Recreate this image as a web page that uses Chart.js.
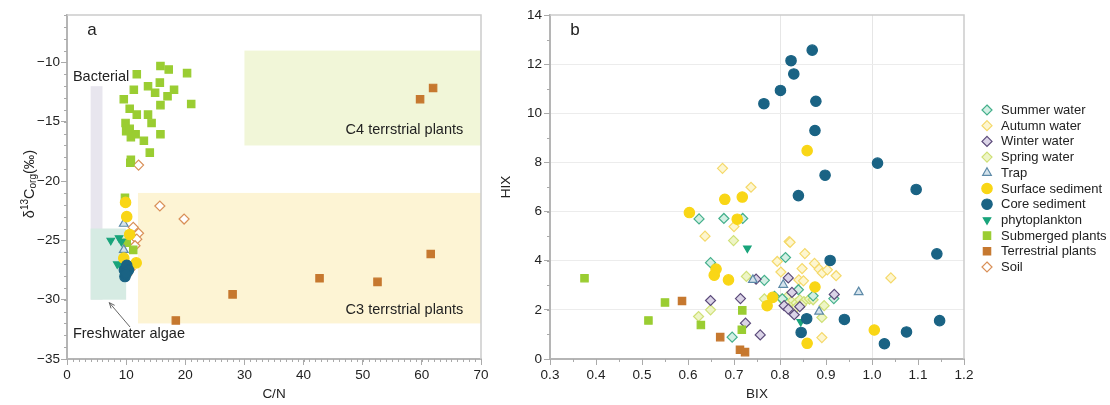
<!DOCTYPE html>
<html>
<head>
<meta charset="utf-8">
<script src="https://cdn.jsdelivr.net/npm/chart.js@4.4.1/dist/chart.umd.min.js"></script>
<style>
  body { margin: 0; background: #fff; }
  #painelA { position: absolute; left: 0; top: 0; }
  #painelB { position: absolute; left: 500px; top: 0; }
</style>
</head>
<body>
<canvas id="painelA" width="500" height="405"></canvas>
<canvas id="painelB" width="610" height="405"></canvas>
<script>
// ---------- dados ----------
// painel a: [C/N, d13C]
const submersasA = [[11.8,-11.0],[15.8,-10.3],[17.2,-10.6],[20.3,-10.9],[11.3,-12.3],[13.7,-12.0],[15.7,-11.7],[14.9,-12.55],[18.1,-12.3],[17.0,-12.85],[9.6,-13.1],[15.8,-13.6],[21.0,-13.5],[10.6,-13.9],[11.8,-14.4],[13.7,-14.4],[14.3,-15.1],[9.9,-15.1],[10.0,-15.8],[10.6,-15.6],[11.6,-16.05],[10.8,-16.3],[15.8,-16.05],[13.0,-16.6],[14.0,-17.6],[10.8,-18.2],[10.7,-18.45],[9.8,-21.4],[10.1,-25.2],[11.2,-25.8]];
const terrestresA = [[59.7,-13.1],[61.9,-12.15],[61.5,-26.15],[42.7,-28.2],[52.5,-28.5],[28.0,-29.55],[18.4,-31.75]];
const soloA = [[12.1,-18.65],[15.7,-22.1],[19.8,-23.2],[11.2,-23.9],[12.1,-24.4],[11.8,-24.9],[11.5,-25.45],[10.4,-27.1],[10.65,-27.45],[10.1,-27.9]];
const superficieA = [[9.9,-21.8],[10.1,-23.0],[10.6,-24.5],[9.6,-26.5],[11.7,-26.9]];
const armadilhaA = [[9.6,-23.6],[9.6,-25.8]];
const fitoA = [[7.4,-25.0],[8.8,-24.8],[9.2,-25.1],[8.5,-27.0],[9.0,-27.1]];
const testemunhoA = [[9.8,-28.05],[9.7,-27.5],[10.1,-27.1],[10.4,-27.5],[10.0,-27.8]];

// painel b: [BIX, HIX]
const veraoB = [[0.624,5.70],[0.678,5.72],[0.719,5.72],[0.649,3.92],[0.812,4.13],[0.766,3.20],[0.696,0.89],[0.788,2.55],[0.840,2.82],[0.872,2.57],[0.917,2.46],[0.805,2.45]];
const outonoB = [[0.675,7.76],[0.737,6.99],[0.700,5.39],[0.637,5.0],[0.820,4.78],[0.822,4.75],[0.854,4.29],[0.794,3.97],[0.802,3.54],[0.848,3.68],[0.875,3.89],[0.885,3.66],[0.892,3.50],[0.903,3.63],[0.922,3.39],[1.041,3.30],[0.841,3.22],[0.851,3.18],[0.891,0.87]];
const invernoB = [[0.649,2.38],[0.714,2.46],[0.725,1.46],[0.757,0.98],[0.748,3.25],[0.818,3.30],[0.918,2.63],[0.826,2.71],[0.809,2.17],[0.818,2.03],[0.831,1.80],[0.843,2.13]];
const primaveraB = [[0.699,4.82],[0.727,3.36],[0.649,2.0],[0.623,1.73],[0.766,2.45],[0.896,2.17],[0.891,1.69],[0.804,2.44],[0.815,2.52],[0.825,2.34],[0.835,2.28],[0.843,2.41],[0.852,2.34],[0.864,2.44],[0.836,2.11],[0.847,2.21],[0.872,2.41],[0.811,2.30]];
const armadilhaB = [[0.741,3.22],[0.807,3.02],[0.971,2.72],[0.885,1.93]];
const superficieB = [[0.859,8.48],[0.680,6.50],[0.718,6.59],[0.603,5.96],[0.707,5.69],[0.661,3.66],[0.657,3.41],[0.688,3.22],[0.876,2.93],[0.784,2.51],[0.772,2.17],[1.005,1.18],[0.859,0.64]];
const testemunhoB = [[0.870,12.57],[0.824,12.14],[0.830,11.6],[0.801,10.93],[0.765,10.39],[0.878,10.49],[0.876,9.30],[0.898,7.48],[1.012,7.97],[1.096,6.90],[0.840,6.65],[0.909,4.01],[1.141,4.28],[1.147,1.56],[0.940,1.61],[0.858,1.64],[0.846,1.08],[1.027,0.62],[1.075,1.10]];
const fitoB = [[0.729,4.51],[0.845,1.52]];
const submersasB = [[0.375,3.29],[0.550,2.30],[0.514,1.57],[0.628,1.38],[0.718,1.98],[0.717,1.19]];
const terrestresB = [[0.587,2.36],[0.670,0.89],[0.713,0.38],[0.724,0.28]];

// rótulos dos eixos
const ticksXA = [0, 10, 20, 30, 40, 50, 60, 70];
const ticksYA = [-35, -30, -25, -20, -15, -10];
const ticksXB = [0.3, 0.4, 0.5, 0.6, 0.7, 0.8, 0.9, 1.0, 1.1, 1.2];
const ticksYB = [0, 2, 4, 6, 8, 10, 12, 14];

// ---------- estilos ----------
const fonte = '"Liberation Sans", Arial, sans-serif';
const estilos = {
    'Summer water':       { forma: 'rectRot', r: 5, fundo: '#d3efe4', borda: '#45b08c', ordem: 9 },
    'Autumn water':       { forma: 'rectRot', r: 5, fundo: '#fdf6d0', borda: '#f5d96a', ordem: 10 },
    'Winter water':       { forma: 'rectRot', r: 5, fundo: '#dbd4e7', borda: '#5b4a7a', ordem: 8 },
    'Spring water':       { forma: 'rectRot', r: 5, fundo: '#eef5c6', borda: '#cfe076', ordem: 11 },
    'Trap':               { forma: 'triangle', r: 5, fundo: '#d5e3ec', borda: '#5d8aa8', ordem: 4 },
    'Surface sediment':   { forma: 'circle', r: 5.2, fundo: '#f9d616', borda: '#f9d616', ordem: 2 },
    'Core sediment':      { forma: 'circle', r: 5.2, fundo: '#1a6384', borda: '#1a6384', ordem: 1 },
    'phytoplankton':      { forma: 'triangle', r: 4.3, fundo: '#19a47b', borda: '#19a47b', ordem: 3, rot: 180 },
    'Submerged plants':   { forma: 'rect', r: 5.2, fundo: '#9acd32', borda: '#9acd32', ordem: 5 },
    'Terrestrial plants': { forma: 'rect', r: 5.2, fundo: '#c6782f', borda: '#c6782f', ordem: 6 },
    'Soil':               { forma: 'rectRot', r: 5, fundo: '#ffffff', borda: '#d99058', ordem: 7 }
};

function serie(nome, dados) {
    const e = estilos[nome];
    return {
        label: nome,
        data: dados.map(p => ({ x: p[0], y: p[1] })),
        pointStyle: e.forma,
        pointRadius: e.r,
        pointHoverRadius: e.r,
        rotation: e.rot || 0,
        backgroundColor: e.fundo,
        borderColor: e.borda,
        borderWidth: 1.2,
        order: e.ordem
    };
}

// desenha um marcador (para a legenda)
function marcador(ctx, e, x, y) {
    ctx.save();
    ctx.fillStyle = e.fundo;
    ctx.strokeStyle = e.borda;
    ctx.lineWidth = 1.2;
    ctx.beginPath();
    const r = e.r;
    if (e.forma == 'circle') {
        ctx.arc(x, y, r, 0, Math.PI * 2);
    } else if (e.forma == 'rect') {
        const s = r * Math.SQRT1_2;
        ctx.rect(x - s, y - s, 2 * s, 2 * s);
    } else if (e.forma == 'rectRot') {
        ctx.moveTo(x, y - r); ctx.lineTo(x + r, y); ctx.lineTo(x, y + r); ctx.lineTo(x - r, y);
    } else if (e.forma == 'triangle') {
        let a = (e.rot || 0) * Math.PI / 180;
        ctx.moveTo(x + Math.sin(a) * r, y - Math.cos(a) * r);
        a += Math.PI * 2 / 3;
        ctx.lineTo(x + Math.sin(a) * r, y - Math.cos(a) * r);
        a += Math.PI * 2 / 3;
        ctx.lineTo(x + Math.sin(a) * r, y - Math.cos(a) * r);
    }
    ctx.closePath();
    ctx.fill();
    ctx.stroke();
    ctx.restore();
}

// marcas menores dos eixos + moldura
function pluginEixos(menores) {
    return {
        id: 'eixos',
        beforeDatasetsDraw(chart) {
            const { ctx, chartArea: a } = chart;
            ctx.save();
            ctx.strokeStyle = '#cccccc';
            ctx.lineWidth = 1.5;
            ctx.beginPath();
            ctx.moveTo(a.left, a.top); ctx.lineTo(a.right, a.top); ctx.lineTo(a.right, a.bottom);
            ctx.stroke();
            ctx.restore();
        },
        afterDraw(chart) {
            const { ctx, chartArea: a, scales } = chart;
            ctx.save();
            ctx.strokeStyle = '#aaaaaa';
            ctx.lineWidth = 1;
            ctx.beginPath();
            for (let i = 0; i <= menores.x.n; i++) {
                const px = Math.round(scales.x.getPixelForValue(menores.x.ini + i * menores.x.passo)) + 0.5;
                ctx.moveTo(px, a.bottom); ctx.lineTo(px, a.bottom + 3);
            }
            for (let i = 0; i <= menores.y.n; i++) {
                const py = Math.round(scales.y.getPixelForValue(menores.y.ini + i * menores.y.passo)) + 0.5;
                ctx.moveTo(a.left - 3, py); ctx.lineTo(a.left, py);
            }
            ctx.stroke();
            ctx.restore();
        }
    };
}

function eixo(min, max, ticks, tamanho, horizontal, formato, extra) {
    return Object.assign({
        type: 'linear',
        min: min,
        max: max,
        afterBuildTicks: s => { s.ticks = ticks.map(v => ({ value: v })); },
        afterFit: s => { if (horizontal) s.height = tamanho; else s.width = tamanho; },
        ticks: { font: { family: fonte, size: 13.5 }, color: '#222', padding: 2, maxRotation: 0, autoSkip: false, callback: formato },
        grid: { drawOnChartArea: false, tickLength: 6, tickColor: '#aaaaaa', tickWidth: 1 },
        border: { color: '#b5b5b5', width: 2 }
    }, extra || {});
}

// ---------- painel a ----------
const caixasA = [
    { x0: 30, x1: 70, y0: -17, y1: -9, cor: '#f1f6d8' },
    { x0: 12, x1: 70, y0: -32, y1: -21, cor: '#fdf4d4' },
    { x0: 4, x1: 6, y0: -30, y1: -12, cor: '#e8e6ee' },
    { x0: 4, x1: 10, y0: -30, y1: -24, cor: '#d6ebe3' }
];
const textosA = [
    { t: 'Bacterial', x: 1.0, y: -11.2, al: 'left' },
    { t: 'C4 terrstrial plants', x: 67.0, y: -15.7, al: 'right' },
    { t: 'C3 terrstrial plants', x: 67.0, y: -30.9, al: 'right' },
    { t: 'Freshwater algae', x: 1.0, y: -32.9, al: 'left' }
];

const anotacoesA = {
    id: 'anotacoesA',
    beforeDatasetsDraw(chart) {
        const { ctx, scales: { x, y } } = chart;
        ctx.save();
        caixasA.forEach(c => {
            const px0 = x.getPixelForValue(c.x0), px1 = x.getPixelForValue(c.x1);
            const py0 = y.getPixelForValue(c.y0), py1 = y.getPixelForValue(c.y1);
            ctx.fillStyle = c.cor;
            ctx.fillRect(px0, py1, px1 - px0, py0 - py1);
        });
        ctx.fillStyle = '#222';
        ctx.font = '14.5px ' + fonte;
        ctx.textBaseline = 'middle';
        textosA.forEach(t => {
            ctx.textAlign = t.al;
            ctx.fillText(t.t, x.getPixelForValue(t.x), y.getPixelForValue(t.y));
        });
        // seta
        const x1 = x.getPixelForValue(10.65), y1 = y.getPixelForValue(-32.3);
        const x2 = x.getPixelForValue(7.15), y2 = y.getPixelForValue(-30.25);
        const ang = Math.atan2(y2 - y1, x2 - x1);
        ctx.strokeStyle = '#555';
        ctx.lineWidth = 0.9;
        ctx.beginPath();
        ctx.moveTo(x1, y1); ctx.lineTo(x2, y2);
        ctx.moveTo(x2 - 6 * Math.cos(ang - 0.4), y2 - 6 * Math.sin(ang - 0.4));
        ctx.lineTo(x2, y2);
        ctx.lineTo(x2 - 6 * Math.cos(ang + 0.4), y2 - 6 * Math.sin(ang + 0.4));
        ctx.stroke();
        // letra do painel
        ctx.font = '17px ' + fonte;
        ctx.textAlign = 'center';
        ctx.fillText('a', 92, 30);
        // títulos dos eixos
        ctx.font = '13.5px ' + fonte;
        ctx.fillText('C/N', (chart.chartArea.left + chart.chartArea.right) / 2, 394);
        ctx.restore();

        // d13Corg(‰) com sobrescrito e subscrito
        const partes = [
            { t: 'δ', s: 14.5, dy: 0 },
            { t: '13', s: 10, dy: -5 },
            { t: 'C', s: 14.5, dy: 0 },
            { t: 'org', s: 10, dy: 3.5 },
            { t: '(‰)', s: 14.5, dy: 0 }
        ];
        ctx.save();
        ctx.translate(30, 184);
        ctx.rotate(-Math.PI / 2);
        ctx.fillStyle = '#222';
        ctx.textBaseline = 'middle';
        ctx.textAlign = 'left';
        let total = 0;
        partes.forEach(p => { ctx.font = p.s + 'px ' + fonte; p.w = ctx.measureText(p.t).width; total += p.w; });
        let cx = -total / 2;
        partes.forEach(p => { ctx.font = p.s + 'px ' + fonte; ctx.fillText(p.t, cx, p.dy); cx += p.w; });
        ctx.restore();
    }
};

new Chart(document.getElementById('painelA'), {
    type: 'scatter',
    data: {
        datasets: [
            serie('Submerged plants', submersasA),
            serie('Terrestrial plants', terrestresA),
            serie('Soil', soloA),
            serie('Surface sediment', superficieA),
            serie('Trap', armadilhaA),
            serie('phytoplankton', fitoA),
            serie('Core sediment', testemunhoA)
        ]
    },
    options: {
        responsive: false,
        animation: false,
        layout: { padding: { top: 15, right: 19, left: 0, bottom: 0 } },
        plugins: { legend: { display: false }, tooltip: { enabled: false } },
        scales: {
            x: eixo(0, 70, ticksXA, 46, true, v => v),
            y: eixo(-35, -6, ticksYA, 67, false, v => '\u2212' + Math.abs(v),
                { ticks: { font: { family: fonte, size: 13.5 }, color: '#222', padding: 1, callback: v => '\u2212' + Math.abs(v) } })
        }
    },
    plugins: [anotacoesA, pluginEixos({ x: { ini: 0, passo: 1, n: 70 }, y: { ini: -35, passo: 1, n: 29 } })]
});

// ---------- painel b ----------
const ordemLegenda = ['Summer water', 'Autumn water', 'Winter water', 'Spring water', 'Trap', 'Surface sediment',
    'Core sediment', 'phytoplankton', 'Submerged plants', 'Terrestrial plants', 'Soil'];

const extrasB = {
    id: 'extrasB',
    afterDraw(chart) {
        const { ctx, chartArea: a } = chart;
        ctx.save();
        ctx.fillStyle = '#222';
        ctx.textBaseline = 'middle';
        ctx.textAlign = 'center';
        ctx.font = '17px ' + fonte;
        ctx.fillText('b', 75, 30);
        ctx.font = '13.5px ' + fonte;
        ctx.fillText('BIX', (a.left + a.right) / 2, 394);
        ctx.save();
        ctx.translate(6, 187);
        ctx.rotate(-Math.PI / 2);
        ctx.fillText('HIX', 0, 0);
        ctx.restore();
        // legenda
        ctx.font = '13px ' + fonte;
        ctx.textAlign = 'left';
        ordemLegenda.forEach((nome, i) => {
            const y = 110 + i * 15.7;
            marcador(ctx, estilos[nome], 487, y);
            ctx.fillStyle = '#222';
            ctx.fillText(nome, 501, y + 0.5);
        });
        ctx.restore();
    }
};

const perto = (a, b) => Math.abs(a - b) < 1e-6;

new Chart(document.getElementById('painelB'), {
    type: 'scatter',
    data: {
        datasets: [
            serie('Summer water', veraoB),
            serie('Autumn water', outonoB),
            serie('Winter water', invernoB),
            serie('Spring water', primaveraB),
            serie('Trap', armadilhaB),
            serie('Surface sediment', superficieB),
            serie('Core sediment', testemunhoB),
            serie('phytoplankton', fitoB),
            serie('Submerged plants', submersasB),
            serie('Terrestrial plants', terrestresB)
        ]
    },
    options: {
        responsive: false,
        animation: false,
        layout: { padding: { top: 15, right: 146, left: 0, bottom: 0 } },
        plugins: { legend: { display: false }, tooltip: { enabled: false } },
        scales: {
            x: eixo(0.3, 1.2, ticksXB, 46, true, v => v.toFixed(1), {
                grid: {
                    drawOnChartArea: true, tickLength: 6, tickColor: '#aaaaaa', tickWidth: 1,
                    color: c => (c.tick && (perto(c.tick.value, 0.8) || perto(c.tick.value, 1.0))) ? '#e6e6e6' : 'rgba(0,0,0,0)'
                }
            }),
            y: eixo(0, 14, ticksYB, 50, false, v => v, {
                grid: {
                    drawOnChartArea: true, tickLength: 6, tickColor: '#aaaaaa', tickWidth: 1,
                    color: c => (c.tick && c.tick.value > 0 && c.tick.value < 14) ? '#ececec' : 'rgba(0,0,0,0)'
                }
            })
        }
    },
    plugins: [extrasB, pluginEixos({ x: { ini: 0.3, passo: 0.05, n: 18 }, y: { ini: 0, passo: 1, n: 14 } })]
});
</script>
</body>
</html>
